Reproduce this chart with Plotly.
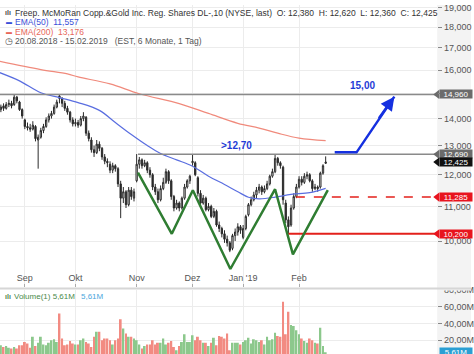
import math
import plotly.graph_objects as go

# ---------------- data (trading day index 0 = 20.08.2018 ... 123 = 15.02.2019) ----------------
month_tick_idx = [10, 29, 52, 73, 92, 113]
month_tick_text = ["Sep", "Okt", "Nov", "Dez", "Jan '19", "Feb"]

ohlc = [
    (14.20, 14.50, 14.15, 14.35), (14.35, 14.55, 14.25, 14.45), (14.50, 14.60, 14.30, 14.40),
    (14.40, 14.65, 14.35, 14.55), (14.55, 14.75, 14.45, 14.60), (14.60, 14.70, 14.40, 14.50),
    (14.55, 14.95, 14.50, 14.85), (14.85, 14.90, 14.60, 14.70), (14.65, 14.70, 14.30, 14.35),
    (14.35, 14.40, 14.00, 14.10), (13.95, 14.00, 13.60, 13.70), (13.70, 13.85, 13.55, 13.65),
    (13.65, 13.80, 13.50, 13.60), (13.60, 13.90, 13.55, 13.75), (13.70, 13.75, 13.15, 13.25),
    (13.20, 13.40, 12.20, 13.30), (13.30, 13.65, 13.25, 13.55), (13.55, 13.80, 13.45, 13.70),
    (13.70, 14.05, 13.65, 13.95), (13.95, 14.20, 13.85, 14.10), (14.10, 14.30, 14.00, 14.20),
    (14.20, 14.55, 14.15, 14.45), (14.45, 14.75, 14.40, 14.65), (14.90, 14.96, 14.60, 14.80),
    (14.80, 14.85, 14.45, 14.60), (14.60, 14.70, 14.30, 14.40), (14.40, 14.50, 14.15, 14.25),
    (14.25, 14.30, 13.85, 13.95), (13.95, 14.05, 13.70, 13.80), (13.80, 14.00, 13.70, 13.85),
    (13.85, 13.95, 13.65, 13.75), (13.75, 14.10, 13.70, 14.00), (14.00, 14.25, 13.90, 14.10),
    (14.05, 14.10, 13.35, 13.45), (13.45, 13.55, 13.15, 13.25), (13.20, 13.30, 12.75, 12.85),
    (12.85, 13.00, 12.60, 12.75), (12.75, 13.20, 12.70, 13.05), (13.05, 13.15, 12.80, 12.90),
    (12.90, 12.95, 12.50, 12.60), (12.60, 12.70, 12.35, 12.45), (12.45, 12.55, 12.25, 12.40),
    (12.35, 12.45, 12.05, 12.15), (12.15, 12.40, 12.05, 12.30), (12.30, 12.35, 12.10, 12.20),
    (12.20, 12.25, 11.60, 11.70), (11.70, 11.80, 10.65, 11.25), (11.25, 11.60, 11.10, 11.45),
    (11.45, 11.50, 10.95, 11.05), (11.05, 11.60, 11.00, 11.50), (11.50, 11.60, 11.20, 11.30),
    (11.25, 11.55, 11.15, 11.45), (11.80, 12.70, 11.75, 12.35), (12.35, 12.60, 12.20, 12.50),
    (12.50, 12.55, 12.20, 12.30), (12.30, 12.50, 12.25, 12.40), (12.40, 12.45, 12.05, 12.15),
    (12.15, 12.25, 11.90, 12.00), (12.00, 12.05, 11.50, 11.60), (11.60, 11.70, 11.35, 11.45),
    (11.45, 11.55, 11.10, 11.20), (11.20, 11.65, 11.15, 11.55), (11.55, 11.90, 11.50, 11.75),
    (11.75, 12.20, 11.70, 12.10), (12.10, 12.15, 11.70, 11.80), (11.80, 11.85, 11.20, 11.30),
    (11.30, 11.35, 10.85, 10.95), (10.95, 11.20, 10.90, 11.10), (11.10, 11.15, 10.85, 10.95),
    (10.95, 11.30, 10.90, 11.25), (11.25, 11.70, 11.20, 11.60), (11.60, 11.85, 11.55, 11.80),
    (11.80, 12.00, 11.70, 11.95), (12.40, 12.70, 12.30, 12.45), (12.40, 12.45, 11.95, 12.00),
    (11.90, 11.95, 11.30, 11.40), (11.40, 11.50, 11.00, 11.10), (11.10, 11.35, 11.05, 11.25),
    (11.25, 11.30, 10.85, 10.90), (10.90, 11.10, 10.85, 11.00), (11.00, 11.05, 10.65, 10.70),
    (10.70, 10.95, 10.65, 10.85), (10.85, 10.90, 10.40, 10.45), (10.45, 10.55, 10.25, 10.35),
    (10.35, 10.40, 10.10, 10.20), (10.20, 10.30, 9.95, 10.05), (10.05, 10.15, 9.85, 9.95),
    (9.95, 10.00, 9.70, 9.75), (9.80, 10.20, 9.75, 10.15), (10.15, 10.35, 10.00, 10.25),
    (10.25, 10.50, 10.15, 10.40), (10.40, 10.45, 10.20, 10.30), (10.10, 10.45, 10.05, 10.35),
    (10.35, 10.75, 10.30, 10.70), (10.75, 11.10, 10.70, 11.05), (11.05, 11.30, 11.00, 11.20),
    (11.20, 11.45, 11.15, 11.35), (11.35, 11.60, 11.25, 11.50), (11.50, 11.70, 11.40, 11.60),
    (11.60, 11.65, 11.35, 11.45), (11.45, 11.65, 11.40, 11.55), (11.55, 11.80, 11.50, 11.70),
    (11.70, 12.00, 11.65, 11.95), (11.95, 12.20, 11.90, 12.10), (12.10, 12.70, 12.05, 12.55),
    (12.55, 12.60, 12.30, 12.40), (12.40, 12.45, 12.20, 12.30), (12.25, 12.30, 11.05, 11.20),
    (11.10, 11.20, 10.50, 10.60), (10.60, 10.70, 10.20, 10.40), (10.45, 11.05, 10.40, 10.95),
    (10.95, 11.40, 10.90, 11.30), (11.30, 11.70, 11.25, 11.60), (11.60, 11.95, 11.55, 11.85),
    (11.85, 11.95, 11.65, 11.75), (11.75, 12.05, 11.70, 11.95), (11.95, 12.10, 11.85, 12.00),
    (12.00, 12.05, 11.75, 11.80), (11.80, 11.85, 11.45, 11.55), (11.55, 11.70, 11.50, 11.60),
    (11.60, 11.65, 11.45, 11.55), (11.60, 12.10, 11.55, 12.05), (12.05, 12.35, 12.00, 12.30),
    (12.38, 12.62, 12.36, 12.425),
]
opens = [r[0] for r in ohlc]
highs = [r[1] for r in ohlc]
lows = [r[2] for r in ohlc]
closes = [r[3] for r in ohlc]
day_idx = list(range(len(ohlc)))

volume_m = [
    14, 14, 12, 13, 11, 10, 12, 10, 14, 14,
    18, 16, 11, 24, 13, 17, 24, 15, 14, 17,
    20, 21, 18, 52, 22, 14, 15, 19, 16, 15,
    15, 20, 22, 18, 16, 12, 24, 30, 30, 20,
    22, 22, 20, 15, 20, 22, 45, 34, 28, 24,
    24, 22, 20, 15, 10, 13, 15, 15, 20, 15,
    17, 17, 22, 15, 17, 19, 12, 8, 13, 18,
    27, 18, 18, 26, 20, 24, 20, 17, 17, 13,
    17, 23, 14, 25, 24, 22, 28, 8, 17, 17,
    17, 15, 18, 20, 23, 16, 21, 20, 18, 20,
    15, 24, 20, 21, 29, 25, 24, 66, 27, 54,
    38, 37, 32, 27, 22, 19, 17, 22, 20, 17,
    16, 35, 13, 5.61,
]

ema50_idx = [0, 8, 16, 23, 30, 38, 44, 50, 56, 61, 67, 73, 79, 85, 90, 94, 98, 104, 110, 117, 123]
ema50_val = [15.91, 15.53, 15.03, 14.83, 14.63, 14.32, 13.85, 13.40, 13.00, 12.72, 12.50, 12.28,
             11.95, 11.68, 11.45, 11.28, 11.23, 11.28, 11.37, 11.42, 11.557]
ema200_idx = [0, 16, 26, 30, 42, 53, 68, 79, 90, 98, 105, 113, 123]
ema200_val = [16.40, 16.02, 15.83, 15.70, 15.40, 14.99, 14.59, 14.20, 13.82, 13.64, 13.45, 13.27, 13.176]

pattern_idx = [52.5, 65.2, 73.1, 87.2, 104.0, 110.7, 123.8]
pattern_val = [12.07, 10.20, 11.50, 9.26, 11.53, 9.64, 11.50]

target_idx = [126.4, 134.6, 148.8]
target_val = [12.76, 12.76, 14.87]

level_val = [14.96, 12.69, 11.285, 10.20]
level_start = [0.0, 52.5, 111.8, 108.9]

badge_val = [14.96, 12.69, 12.425, 11.285, 10.20]
badge_text = ["14,960", "12,690", "12,425", "11,285", "10,200"]

price_tick_vals = [9, 10, 11, 12, 13, 14, 15, 16, 17, 18, 19]
price_tick_text = ["9,000", "10,000", "11,000", "12,000", "13,000", "14,000", "",
                   "16,000", "17,000", "18,000", "19,000"]
vol_tick_vals = [20e6, 40e6, 60e6, 80e6]
vol_tick_text = ["20,00M", "40,00M", "60,00M", "80,00M"]

# ---------------- layout geometry ----------------
W, H = 474, 354
PX_RIGHT = 440
XD = PX_RIGHT / W
X_MIN, X_MAX = 0.67, 164.9
PRICE_TOP_V, PRICE_BOT_V = 19.13, 8.814
price_dom = [1 - 286 / H, 1.0]
vol_dom = [0.0, 1 - 289 / H]
FONT = "Liberation Sans, Arial, sans-serif"

green_c, red_c = "#8cc88c", "#f28b82"
vol_colors = [green_c if c >= o else red_c for o, c in zip(opens, closes)]

fig = go.Figure()

# EMA lines
fig.add_trace(go.Scatter(x=ema200_idx, y=ema200_val, mode="lines", line=dict(color="#f08a7c", width=1.2, shape="spline"),
                         xaxis="x", yaxis="y", hoverinfo="skip"))
fig.add_trace(go.Scatter(x=ema50_idx, y=ema50_val, mode="lines", line=dict(color="#5a6ee0", width=1.2, shape="spline"),
                         xaxis="x", yaxis="y", hoverinfo="skip"))

# level lines
level_colors = ["#8a8a8a", "#8a8a8a", "#e3201b", "#e3201b"]
level_dash = ["solid", "solid", "dash", "solid"]
level_w = [1.5, 1.5, 1.6, 2]
for v, s, c, d, w in zip(level_val, level_start, level_colors, level_dash, level_w):
    fig.add_trace(go.Scatter(x=[s, X_MAX], y=[v, v], mode="lines", line=dict(color=c, width=w, dash=d),
                             xaxis="x", yaxis="y", hoverinfo="skip", cliponaxis=True))

# candles
fig.add_trace(go.Candlestick(x=day_idx, open=opens, high=highs, low=lows, close=closes,
                             increasing=dict(line=dict(color="#2a2a2a", width=1), fillcolor="#ffffff"),
                             decreasing=dict(line=dict(color="#2a2a2a", width=1), fillcolor="#2a2a2a"),
                             whiskerwidth=0, xaxis="x", yaxis="y", hoverinfo="skip"))

# inverse head & shoulders
fig.add_trace(go.Scatter(x=pattern_idx, y=pattern_val, mode="lines", line=dict(color="#2f7d32", width=2.5),
                         xaxis="x", yaxis="y", hoverinfo="skip"))

# target arrow path
fig.add_trace(go.Scatter(x=target_idx, y=target_val, mode="lines", line=dict(color="#1530e0", width=2.5),
                         xaxis="x", yaxis="y", hoverinfo="skip"))

# badge pointers
badge_colors = ["#6b6b6b", "#6b6b6b", "#111111", "#e8141e", "#e8141e"]
fig.add_trace(go.Scatter(x=[X_MAX] * len(badge_val), y=badge_val, mode="markers",
                         marker=dict(symbol="triangle-left", size=8, color=badge_colors, line=dict(width=0)),
                         xaxis="x", yaxis="y", cliponaxis=False, hoverinfo="skip"))

# volume
fig.add_trace(go.Bar(x=day_idx, y=[v * 1e6 for v in volume_m], marker=dict(color=vol_colors, line=dict(width=0)),
                     width=0.72, xaxis="x2", yaxis="y2", hoverinfo="skip"))

annotations = []
for v, t, c in zip(badge_val, badge_text, badge_colors):
    annotations.append(dict(xref="paper", yref="y", x=XD + 2 / W, y=math.log10(v), xanchor="left", yanchor="middle",
                            text=t, showarrow=False, bgcolor=c, font=dict(color="white", size=8, family=FONT),
                            borderpad=0, width=32, height=8, align="center"))
# volume badge
annotations.append(dict(xref="paper", yref="y2", x=XD + 2 / W, y=5.61e6, xanchor="left", yanchor="middle",
                        text="5,61M", showarrow=False, bgcolor="#2b9fd3", font=dict(color="white", size=8, family=FONT),
                        borderpad=0, width=32, height=8, align="center"))

# arrow head for target
annotations.append(dict(xref="x", yref="y", axref="x", ayref="y", x=target_idx[2], y=math.log10(target_val[2]),
                        ax=target_idx[1] + 8, ay=math.log10(target_val[1] + 1.2), showarrow=True, arrowhead=2,
                        arrowsize=1.1, arrowwidth=2.5, arrowcolor="#1530e0", text="", standoff=0))
annotations.append(dict(xref="x", yref="y", x=137.0, y=math.log10(15.32), text="<b>15,00</b>", showarrow=False,
                        font=dict(color="#1f3bd6", size=10, family=FONT)))
annotations.append(dict(xref="x", yref="y", x=83.1, y=math.log10(12.99), xanchor="left", text="<b>&gt;12,70</b>",
                        showarrow=False, font=dict(color="#1f3bd6", size=10, family=FONT)))

# header legend
def hdr(x, y, text, color, size=8.5):
    annotations.append(dict(xref="paper", yref="paper", x=x / W, y=1 - y / H, xanchor="left", yanchor="middle",
                            text=text, showarrow=False, font=dict(color=color, size=size, family=FONT)))

hdr(3, 8, "<b>ılı</b>", "#444", 7)
hdr(13, 8, "Freep. McMoRan Copp.&amp;Gold Inc. Reg. Shares DL-,10 (NYSE, last)&nbsp;&nbsp;O: 12,380&nbsp;&nbsp;H: 12,620&nbsp;&nbsp;L: 12,360&nbsp;&nbsp;C: 12,425", "#333")
hdr(4, 17, "<b>▬</b>", "#3a4fd8", 6)
hdr(13, 17, "EMA(50)&nbsp;&nbsp;11,557", "#3a4fd8")
hdr(4, 27, "<b>▬</b>", "#e8675a", 6)
hdr(13, 27, "EMA(200)&nbsp;&nbsp;13,176", "#e8675a")
hdr(3, 37, "◷", "#555", 9)
hdr(13, 37, "20.08.2018 - 15.02.2019&nbsp;&nbsp;&nbsp;(EST, 6 Monate, 1 Tag)", "#555")
hdr(3, 296, "<b>ılı</b>", "#4a8a4a", 7)
hdr(12, 296, "Volume(1) 5,61M", "#4a8a4a", 8)
hdr(79, 296, "5,61M", "#4aa6dc", 8)

shapes = [
    dict(type="rect", xref="paper", yref="paper", x0=XD, x1=1, y0=0, y1=1, fillcolor="#f3f3f3",
         line=dict(width=0), layer="below"),
    dict(type="rect", xref="paper", yref="paper", x0=XD, x1=1, y0=1 - 289.5 / H, y1=1 - 284 / H,
         fillcolor="#f3f3f3", line=dict(width=0), layer="above"),
    dict(type="line", xref="paper", yref="paper", x0=0, x1=1, y0=1 - 287.5 / H, y1=1 - 287.5 / H,
         line=dict(color="#d6d6d6", width=2), layer="above"),
]

grid_c = "#ececec"
tick_font = dict(size=9, color="#555", family=FONT)
fig.update_layout(
    width=W, height=H, margin=dict(l=0, r=0, t=0, b=0),
    paper_bgcolor="white", plot_bgcolor="white", showlegend=False,
    annotations=annotations, shapes=shapes,
    xaxis=dict(domain=[0, XD], anchor="y", range=[X_MIN, X_MAX], tickmode="array", tickvals=month_tick_idx,
               ticktext=month_tick_text, ticklabelposition="inside", ticks="inside", ticklen=3, tickcolor="#aaa",
               showgrid=True, gridcolor=grid_c, zeroline=False, showline=False, tickfont=tick_font,
               rangeslider=dict(visible=False), fixedrange=True),
    xaxis2=dict(domain=[0, XD], anchor="y2", matches="x", tickmode="array", tickvals=month_tick_idx,
                showticklabels=False, showgrid=True, gridcolor=grid_c, zeroline=False, showline=False, ticks=""),
    yaxis=dict(domain=price_dom, anchor="x", side="right", type="log",
               range=[math.log10(PRICE_BOT_V), math.log10(PRICE_TOP_V)], tickmode="array",
               tickvals=price_tick_vals, ticktext=price_tick_text, ticks="outside", ticklen=4, tickcolor="#888",
               showgrid=True, gridcolor=grid_c, zeroline=False, showline=False, tickfont=tick_font),
    yaxis2=dict(domain=vol_dom, anchor="x2", side="right", range=[3.53e6, 80e6], tickmode="array",
                tickvals=vol_tick_vals, ticktext=vol_tick_text, ticks="outside", ticklen=4, tickcolor="#888",
                showgrid=True, gridcolor=grid_c, zeroline=False, showline=False, tickfont=tick_font),
    bargap=0.25,
)

fig.write_html("out.html")
